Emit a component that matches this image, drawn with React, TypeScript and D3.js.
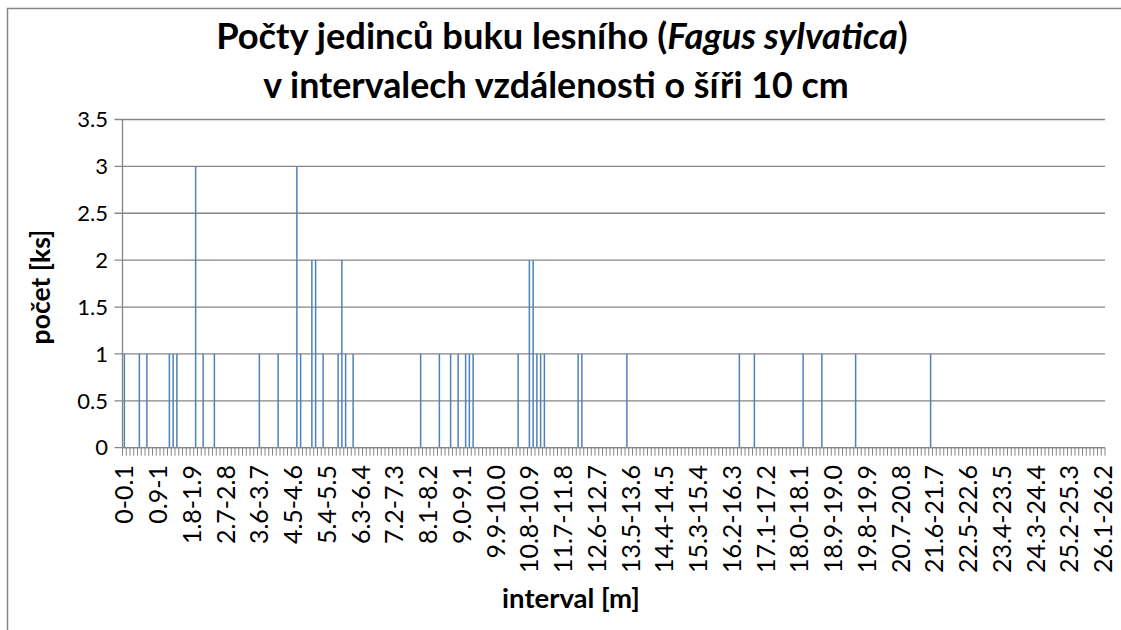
import React from "react";
import * as d3 from "d3";

// Count of beech trees per 10 cm distance interval, 262 intervals (0-0.1 ... 26.1-26.2)
const values: number[] = [
  1, 0, 0, 0, 1, 0, 1, 0, 0, 0,
  0, 0, 1, 1, 1, 0, 0, 0, 0, 3,
  0, 1, 0, 0, 1, 0, 0, 0, 0, 0,
  0, 0, 0, 0, 0, 0, 1, 0, 0, 0,
  0, 1, 0, 0, 0, 0, 3, 1, 0, 0,
  2, 2, 0, 1, 0, 0, 0, 1, 2, 1,
  0, 1, 0, 0, 0, 0, 0, 0, 0, 0,
  0, 0, 0, 0, 0, 0, 0, 0, 0, 1,
  0, 0, 0, 0, 1, 0, 0, 1, 0, 1,
  0, 1, 1, 1, 0, 0, 0, 0, 0, 0,
  0, 0, 0, 0, 0, 1, 0, 0, 2, 2,
  1, 1, 1, 0, 0, 0, 0, 0, 0, 0,
  0, 1, 1, 0, 0, 0, 0, 0, 0, 0,
  0, 0, 0, 0, 1, 0, 0, 0, 0, 0,
  0, 0, 0, 0, 0, 0, 0, 0, 0, 0,
  0, 0, 0, 0, 0, 0, 0, 0, 0, 0,
  0, 0, 0, 0, 1, 0, 0, 0, 1, 0,
  0, 0, 0, 0, 0, 0, 0, 0, 0, 0,
  0, 1, 0, 0, 0, 0, 1, 0, 0, 0,
  0, 0, 0, 0, 0, 1, 0, 0, 0, 0,
  0, 0, 0, 0, 0, 0, 0, 0, 0, 0,
  0, 0, 0, 0, 0, 1, 0, 0, 0, 0,
  0, 0, 0, 0, 0, 0, 0, 0, 0, 0,
  0, 0, 0, 0, 0, 0, 0, 0, 0, 0,
  0, 0, 0, 0, 0, 0, 0, 0, 0, 0,
  0, 0, 0, 0, 0, 0, 0, 0, 0, 0,
  0, 0,
];

// Labels shown on the category axis (every 9th interval)
const tickLabels: string[] = [
  "0-0.1", "0.9-1", "1.8-1.9", "2.7-2.8", "3.6-3.7", "4.5-4.6", "5.4-5.5",
  "6.3-6.4", "7.2-7.3", "8.1-8.2", "9.0-9.1", "9.9-10.0", "10.8-10.9",
  "11.7-11.8", "12.6-12.7", "13.5-13.6", "14.4-14.5", "15.3-15.4", "16.2-16.3",
  "17.1-17.2", "18.0-18.1", "18.9-19.0", "19.8-19.9", "20.7-20.8", "21.6-21.7",
  "22.5-22.6", "23.4-23.5", "24.3-24.4", "25.2-25.3", "26.1-26.2",
];
const labelEvery = 9;

const yTicks: number[] = [0, 0.5, 1, 1.5, 2, 2.5, 3, 3.5];

const W = 1121;
const H = 630;
const left = 122.5;
const right = 1105;
const top = 119.5;
const bottom = 447.7;

const FONT = "Lato, 'Open Sans', sans-serif";
const GRID = "#868686";
const BAR = "#4F81BD";

export default function App() {
  const idx = values.map((_, i) => i);
  const x = d3.scaleBand<number>().domain(idx).range([left, right]).padding(0);
  const y = d3.scaleLinear().domain([0, 3.5]).range([bottom, top]);
  const bw = x.bandwidth();
  const barW = bw / 2.5;
  const fmt = (v: number) => (Number.isInteger(v) ? String(v) : v.toFixed(1));

  const boundaries = d3.range(values.length + 1).map((i) => left + i * bw);

  return (
    <svg
      width={W}
      height={H}
      style={{ position: "absolute", left: 0, top: 0, background: "#fff" }}
      xmlns="http://www.w3.org/2000/svg"
    >
      <rect x={0} y={0} width={W} height={H} fill="#fff" />
      {/* outer chart border */}
      <path d={`M7.5,${H + 2} L7.5,8.5 L${W + 2},8.5`} fill="none" stroke={GRID} strokeWidth={1.5} />

      {/* title */}
      <text x={562} y={49} textAnchor="middle" fontFamily={FONT} fontWeight={700} fontSize={36.3} fill="#000">
        Počty jedinců buku lesního (
        <tspan fontStyle="italic">Fagus sylvatica</tspan>)
      </text>
      <text x={556} y={98} textAnchor="middle" fontFamily={FONT} fontWeight={700} fontSize={35.8} fill="#000">
        v intervalech vzdálenosti o šíři 10 cm
      </text>

      {/* gridlines + y ticks */}
      {yTicks.map((t) => (
        <g key={t}>
          <line x1={left - 8} x2={right} y1={y(t)} y2={y(t)} stroke={GRID} strokeWidth={1.3} />
          <text
            x={108}
            y={y(t)}
            dy="0.35em"
            textAnchor="end"
            fontFamily={FONT}
            fontSize={22}
            fill="#000"
          >
            {fmt(t)}
          </text>
        </g>
      ))}

      {/* y axis line */}
      <line x1={left} x2={left} y1={top} y2={bottom} stroke={GRID} strokeWidth={1.3} />

      {/* bars */}
      {values.map((v, i) =>
        v > 0 ? (
          <rect
            key={i}
            x={(x(i) as number) + bw / 2 - barW / 2}
            y={y(v)}
            width={barW}
            height={bottom - y(v)}
            fill={BAR}
          />
        ) : null
      )}

      {/* x tick marks */}
      {boundaries.map((bx, i) => (
        <line key={i} x1={bx} x2={bx} y1={bottom} y2={bottom + 8} stroke={GRID} strokeWidth={1} />
      ))}
      <line x1={left} x2={right} y1={bottom} y2={bottom} stroke={GRID} strokeWidth={1.3} />

      {/* x tick labels */}
      {tickLabels.map((lab, k) => {
        const i = k * labelEvery;
        const cx = (x(i) as number) + bw / 2;
        return (
          <text
            key={lab}
            transform={`translate(${cx},465) rotate(-90)`}
            dy="0.36em"
            textAnchor="end"
            fontFamily={FONT}
            fontSize={25}
            fill="#000"
          >
            {lab}
          </text>
        );
      })}

      {/* axis titles */}
      <text x={571} y={608} textAnchor="middle" fontFamily={FONT} fontWeight={700} fontSize={27.5} fill="#000">
        interval [m]
      </text>
      <text
        transform={`translate(50,287) rotate(-90)`}
        textAnchor="middle"
        fontFamily={FONT}
        fontWeight={700}
        fontSize={26.5}
        fill="#000"
      >
        počet [ks]
      </text>
    </svg>
  );
}
